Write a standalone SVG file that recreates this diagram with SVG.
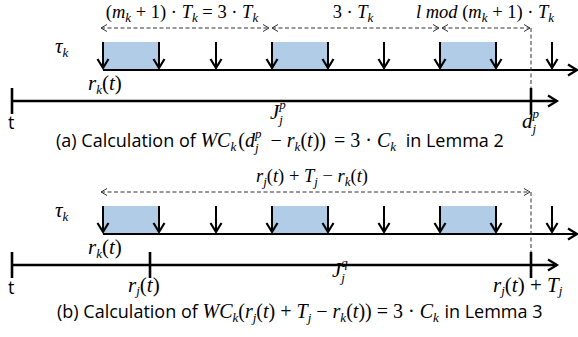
<svg xmlns="http://www.w3.org/2000/svg" width="578" height="337" viewBox="0 0 578 337">
<style>
.m{font-family:"Liberation Serif","DejaVu Serif",serif;font-size:18.5px;fill:#000}
.L{font-size:21px}
.C{font-size:20px}
.i{font-style:italic}
.s{font-size:13px;font-style:italic}
.cap{font-family:"Open Sans","Liberation Sans",sans-serif;font-size:18px;fill:#000}
.box{fill:#b1cce6}
.ax{stroke:#000;stroke-width:2.2;fill:none}
.tl{stroke:#000;stroke-width:2.6;fill:none}
.dn{stroke:#000;stroke-width:2;fill:none}
.dash{stroke:#333;stroke-width:1;stroke-dasharray:4 2.5;fill:none}
</style>
<defs>
<marker id="ah" markerUnits="userSpaceOnUse" orient="auto" overflow="visible" markerWidth="1" markerHeight="1"><path d="M-9,-5.5 L0,0 L-9,5.5" fill="none" stroke="#000" stroke-width="2.2"/></marker>
<marker id="da" markerUnits="userSpaceOnUse" orient="auto-start-reverse" overflow="visible" markerWidth="1" markerHeight="1"><path d="M-6,-3.5 L0,0 L-6,3.5" fill="none" stroke="#333" stroke-width="1"/></marker>
<g id="tasks">
<rect class="box" x="103" y="42" width="56" height="28"/>
<rect class="box" x="272" y="42" width="56" height="28"/>
<rect class="box" x="440" y="42" width="56" height="28"/>
<line class="ax" x1="103" y1="70" x2="577" y2="70" marker-end="url(#ah)"/>
<g class="dn" marker-end="url(#ah)">
<line x1="103" y1="42" x2="103" y2="68"/>
<line x1="159" y1="42" x2="159" y2="68"/>
<line x1="216" y1="42" x2="216" y2="68"/>
<line x1="272" y1="42" x2="272" y2="68"/>
<line x1="328" y1="42" x2="328" y2="68"/>
<line x1="384" y1="42" x2="384" y2="68"/>
<line x1="440" y1="42" x2="440" y2="68"/>
<line x1="496" y1="42" x2="496" y2="68"/>
<line x1="552" y1="42" x2="552" y2="68"/>
</g>
<text class="m L" x="55" y="53"><tspan class="i">τ</tspan><tspan class="s" dy="4">k</tspan></text>
<text class="m L" x="88" y="90"><tspan class="i">r</tspan><tspan class="s" dy="4">k</tspan><tspan dy="-4">(</tspan><tspan class="i">t</tspan>)</text>
</g>
</defs>

<g id="panel-a">
<use href="#tasks"/>
<g id="a-connectors">
<line class="dash" x1="101" y1="28" x2="269" y2="28" marker-start="url(#da)" marker-end="url(#da)"/>
<line class="dash" x1="272" y1="28" x2="439" y2="28" marker-start="url(#da)" marker-end="url(#da)"/>
<line class="dash" x1="442" y1="28" x2="530" y2="28" marker-start="url(#da)" marker-end="url(#da)"/>
<line class="dash" x1="531" y1="28" x2="531" y2="88" stroke-dasharray="3 2"/>
<line class="tl" x1="12" y1="101" x2="557" y2="101" marker-end="url(#ah)"/>
<line class="tl" x1="12" y1="88" x2="12" y2="114"/>
<line class="tl" x1="531" y1="88" x2="531" y2="114"/>
</g>
<text class="m" x="182" y="18" text-anchor="middle">(<tspan class="i">m</tspan><tspan class="s" dy="4">k</tspan><tspan dy="-4"> + 1) · </tspan><tspan class="i">T</tspan><tspan class="s" dy="4">k</tspan><tspan dy="-4"> = 3 · </tspan><tspan class="i">T</tspan><tspan class="s" dy="4">k</tspan></text>
<text class="m" x="353" y="18" text-anchor="middle">3 · <tspan class="i">T</tspan><tspan class="s" dy="4">k</tspan></text>
<text class="m" x="485" y="18" text-anchor="middle"><tspan class="i">l</tspan> <tspan class="i">mod</tspan> (<tspan class="i">m</tspan><tspan class="s" dy="4">k</tspan><tspan dy="-4"> + 1) · </tspan><tspan class="i">T</tspan><tspan class="s" dy="4">k</tspan></text>
<text class="cap" x="8" y="129" font-size="17">t</text>
<text class="m L" x="270" y="119"><tspan class="i">J</tspan><tspan class="s" dy="-10">p</tspan><tspan class="s" dx="-6.5" dy="15">j</tspan></text>
<text class="m L" x="522" y="128"><tspan class="i">d</tspan><tspan class="s" dy="-10">p</tspan><tspan class="s" dx="-6.5" dy="15">j</tspan></text>
<text class="cap" x="56" y="147">(a) Calculation of <tspan class="m C i">WC</tspan><tspan class="m s" dy="4">k</tspan><tspan class="m C" dx="2" dy="-4">(</tspan><tspan class="m C i">d</tspan><tspan class="m s" dy="-9">p</tspan><tspan class="m s" dx="-6.5" dy="14">j</tspan><tspan class="m C" dx="7" dy="-5"> − </tspan><tspan class="m C i">r</tspan><tspan class="m s" dy="4">k</tspan><tspan class="m C" dy="-4">(</tspan><tspan class="m C i">t</tspan><tspan class="m C">)) </tspan><tspan class="m C" dx="3">= 3 · </tspan><tspan class="m C i">C</tspan><tspan class="m s" dy="4">k</tspan><tspan dx="5" dy="-4"> in Lemma 2</tspan></text>
</g>

<g id="panel-b">
<use href="#tasks" y="164"/>
<g id="b-connectors">
<line class="dash" x1="101" y1="192" x2="530" y2="192" marker-start="url(#da)" marker-end="url(#da)"/>
<line class="dash" x1="531" y1="192" x2="531" y2="252" stroke-dasharray="3 2"/>
<line class="tl" x1="12" y1="265" x2="557" y2="265" marker-end="url(#ah)"/>
<line class="tl" x1="12" y1="252" x2="12" y2="278"/>
<line class="tl" x1="150" y1="252" x2="150" y2="278"/>
<line class="tl" x1="531" y1="252" x2="531" y2="278"/>
</g>
<text class="m" x="312" y="182" text-anchor="middle"><tspan class="i">r</tspan><tspan class="s" dy="4">j</tspan><tspan dy="-4">(</tspan><tspan class="i">t</tspan>) + <tspan class="i">T</tspan><tspan class="s" dy="4">j</tspan><tspan dy="-4"> − </tspan><tspan class="i">r</tspan><tspan class="s" dy="4">k</tspan><tspan dy="-4">(</tspan><tspan class="i">t</tspan>)</text>
<text class="cap" x="8" y="294" font-size="17">t</text>
<text class="m L" x="128" y="292"><tspan class="i">r</tspan><tspan class="s" dy="3">j</tspan><tspan dy="-3">(</tspan><tspan class="i">t</tspan>)</text>
<text class="m L" x="332" y="277"><tspan class="i">J</tspan><tspan class="s" dy="-10">q</tspan><tspan class="s" dx="-6.5" dy="15">j</tspan></text>
<text class="m L" x="493" y="292"><tspan class="i">r</tspan><tspan class="s" dy="3">j</tspan><tspan dy="-3">(</tspan><tspan class="i">t</tspan>) + <tspan class="i">T</tspan><tspan class="s" dy="3">j</tspan></text>
<text class="cap" x="57" y="318">(b) Calculation of <tspan class="m C i">WC</tspan><tspan class="m s" dy="4">k</tspan><tspan class="m C" dy="-4">(</tspan><tspan class="m C i">r</tspan><tspan class="m s" dy="4">j</tspan><tspan class="m C" dy="-4">(</tspan><tspan class="m C i">t</tspan><tspan class="m C">) + </tspan><tspan class="m C i">T</tspan><tspan class="m s" dy="4">j</tspan><tspan class="m C" dy="-4"> − </tspan><tspan class="m C i">r</tspan><tspan class="m s" dy="4">k</tspan><tspan class="m C" dy="-4">(</tspan><tspan class="m C i">t</tspan><tspan class="m C">)) = 3 · </tspan><tspan class="m C i">C</tspan><tspan class="m s" dy="4">k</tspan><tspan dx="1" dy="-4"> in Lemma 3</tspan></text>
</g>
</svg>
